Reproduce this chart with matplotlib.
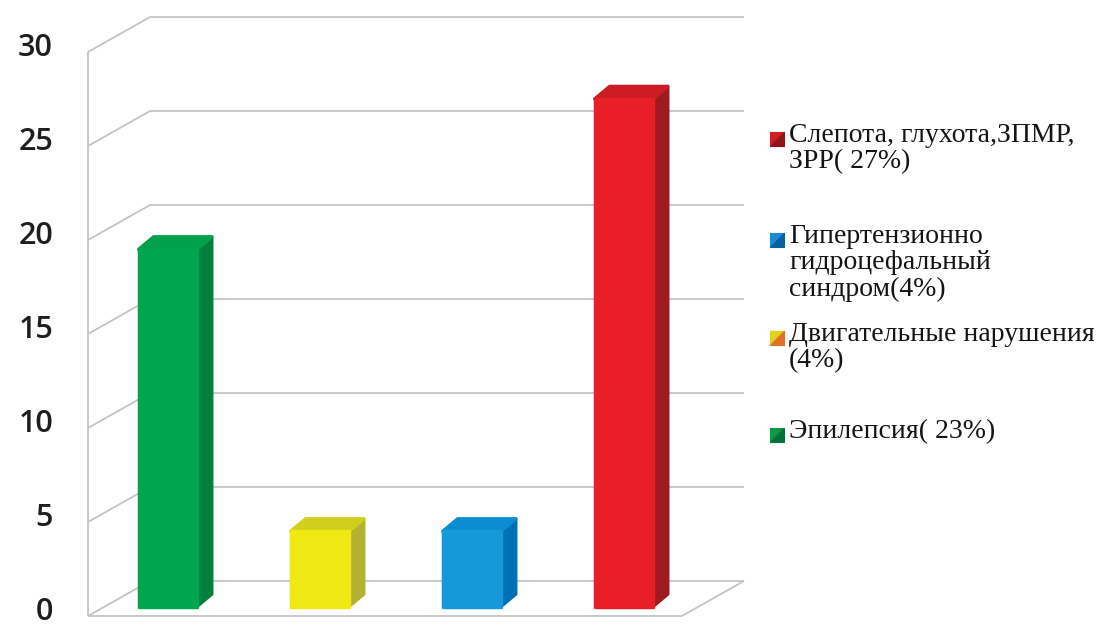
import matplotlib.pyplot as plt
from matplotlib.patches import Polygon

# Counts per group, drawn left to right.
values = [19, 4, 4, 27]
front_colors = ['#00a550', '#efe812', '#1699d8', '#e81f27']
side_colors = ['#00803c', '#b3b032', '#0070b5', '#9d1a1f']
top_colors = ['#00a04c', '#d2cf1c', '#0c8cd2', '#cc1d24']

yticks = [0, 5, 10, 15, 20, 25, 30]

# Legend entries (top to bottom) and their marker colours.
legend_labels = ['Слепота, глухота,ЗПМР,\nЗРР( 27%)',
                 'Гипертензионно\nгидроцефальный\nсиндром(4%)',
                 'Двигательные нарушения\n(4%)',
                 'Эпилепсия( 23%)']
legend_colors = ['#d21f26', '#1b8ad0', '#e2d21a', '#0a9a48']
legend_dark = ['#8e1519', '#0a5fa0', '#e0702a', '#05703a']
legend_y = [139, 240, 338, 435]   # pixel row of first line

W, H = 1110, 629
PX_X, PX_Y = 152.0, 18.8          # pixels per category / per unit
X0, Y0 = 151.0, 616.0             # pixel of (category 0, value 0) on front plane
DX, DY = 62 / PX_X, 35 / PX_Y     # wall depth
BX, BY = 15 / PX_X, 12.5 / PX_Y   # bar depth
T_BAR = 0.27                      # depth of bar front face
BAR_W = 58 / PX_X
C_LEFT, C_RIGHT = (88 - X0) / PX_X, (682 - X0) / PX_X

fig = plt.figure(figsize=(W / 100, H / 100), dpi=100)
ax = fig.add_axes([0, 0, 1, 1])
ax.set_xlim(-X0 / PX_X, (W - X0) / PX_X)
ax.set_ylim(-(H - Y0) / PX_Y, Y0 / PX_Y)
ax.axis('off')


def px(x, y):
    # pixel position (from top-left) to data coordinates
    return (x - X0) / PX_X, (Y0 - y) / PX_Y


grid = dict(color='#c4c4c4', lw=1.3, zorder=1, solid_capstyle='butt')

# left wall and back wall
ax.plot([C_LEFT, C_LEFT], [0, yticks[-1]], **grid)
for v in yticks:
    ax.plot([C_LEFT, C_LEFT + DX], [v, v + DY], **grid)
    ax.plot([C_LEFT + DX, C_RIGHT + DX], [v + DY, v + DY], **grid)
# floor
ax.plot([C_LEFT, C_RIGHT, C_RIGHT + DX], [0, 0, DY], **grid)

# tick labels sit a few pixels above their gridline
lift = 4 / PX_Y
for t in yticks:
    x, _ = px(53, 0)
    ax.text(x, t + lift, str(t), ha='right', va='center', fontsize=22,
            family='Open Sans', weight='semibold', color='#1e1e1e')

# 3D-looking bars
for i, v in enumerate(values):
    cx = i + T_BAR * DX
    base = T_BAR * DY
    x0, x1 = cx - BAR_W / 2, cx + BAR_W / 2
    y0, y1 = base, base + v
    kw = dict(joinstyle='round', lw=2.5, zorder=3)
    ax.add_patch(Polygon([(x1, y0), (x1 + BX, y0 + BY), (x1 + BX, y1 + BY), (x1, y1)],
                         fc=side_colors[i], ec=side_colors[i], **kw))
    ax.add_patch(Polygon([(x0, y1), (x1, y1), (x1 + BX, y1 + BY), (x0 + BX, y1 + BY)],
                         fc=top_colors[i], ec=top_colors[i], **kw))
    ax.add_patch(Polygon([(x0, y0), (x1, y0), (x1, y1), (x0, y1)],
                         fc=front_colors[i], ec=front_colors[i], **kw))

# legend
for lab, c, d, y in zip(legend_labels, legend_colors, legend_dark, legend_y):
    mx0, my0 = px(770, y + 7)
    mx1, my1 = px(784, y - 7)
    ax.add_patch(Polygon([(mx0, my0), (mx1, my0), (mx1, my1), (mx0, my1)],
                         fc=d, ec=d, lw=0.8, zorder=3))
    ax.add_patch(Polygon([(mx0, my0), (mx1, my1), (mx0, my1)],
                         fc=c, ec='none', zorder=4))
    tx, ty = px(789, y - 16)
    ax.text(tx, ty, lab, ha='left', va='top', fontsize=20,
            family='Liberation Serif', color='#141414', linespacing=1.07)

fig.savefig('out.png', dpi=100, facecolor='white')
